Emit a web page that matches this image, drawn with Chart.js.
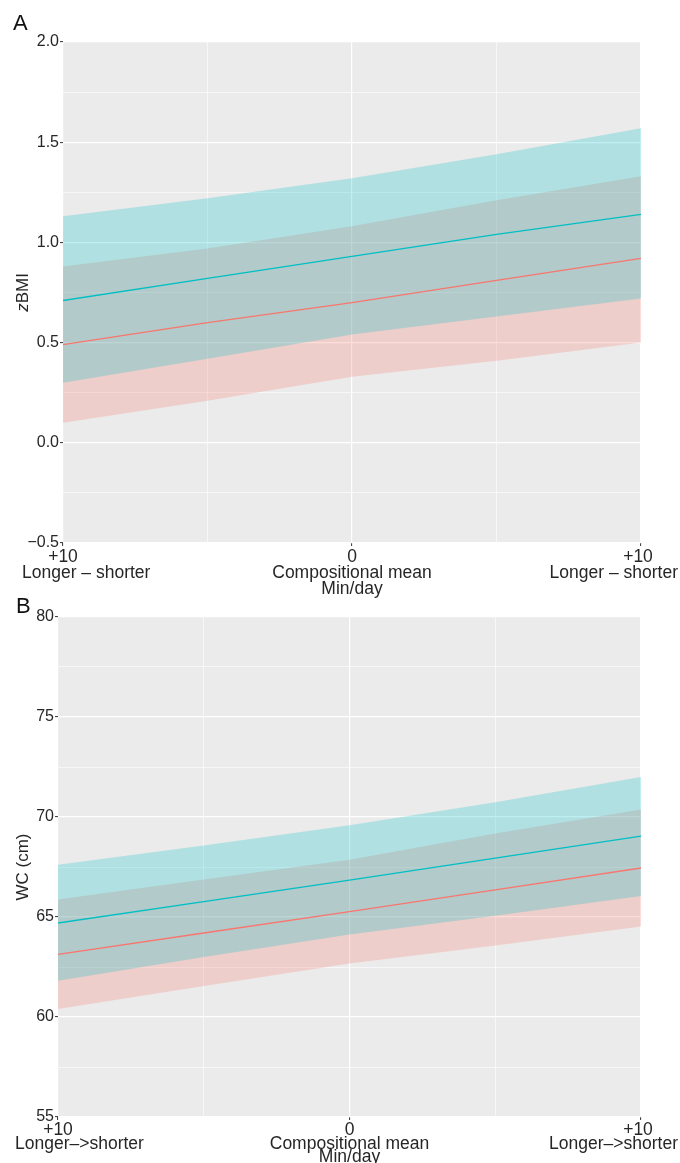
<!DOCTYPE html>
<html>
<head>
<meta charset="utf-8">
<script src="https://cdn.jsdelivr.net/npm/chart.js@4.4.1/dist/chart.umd.min.js"></script>
<style>
  body { margin: 0; background: #fff; }
  #wrap { position: relative; width: 680px; height: 1163px; overflow: hidden; }
  #wrap canvas { position: absolute; left: 0; }
  #chartA { top: 0; }
  #chartB { top: 590px; }
</style>
</head>
<body>
<div id="wrap">
  <canvas id="chartA" width="680" height="600"></canvas>
  <canvas id="chartB" width="680" height="573"></canvas>
</div>
<script>
// x positions of the estimates (min/day reallocated)
var xVals = [-10, -5, 0, 5, 10];
var xTickVals = [-10, 0, 10];

// panel A: zBMI
var cyanMidA = [0.71, 0.82, 0.93, 1.04, 1.14];
var cyanUpperA = [1.13, 1.22, 1.32, 1.44, 1.57];
var cyanLowerA = [0.30, 0.42, 0.54, 0.63, 0.72];
var redMidA = [0.49, 0.60, 0.70, 0.81, 0.92];
var redUpperA = [0.88, 0.97, 1.08, 1.21, 1.33];
var redLowerA = [0.10, 0.21, 0.33, 0.41, 0.50];
var xLabelsA = [["+10", "Longer \u2013 shorter"], ["0", "Compositional mean", "Min/day"], ["+10", "Longer \u2013 shorter"]];

// panel B: WC (cm)
var cyanMidB = [64.70, 65.77, 66.84, 67.94, 69.04];
var cyanUpperB = [67.61, 68.57, 69.59, 70.74, 72.00];
var cyanLowerB = [61.81, 63.00, 64.12, 65.06, 66.05];
var redMidB = [63.13, 64.20, 65.27, 66.36, 67.45];
var redUpperB = [65.88, 66.87, 67.86, 69.18, 70.38];
var redLowerB = [60.40, 61.55, 62.67, 63.57, 64.53];
var xLabelsB = [["+10", "Longer\u2013>shorter"], ["0", "Compositional mean", "Min/day"], ["+10", "Longer\u2013>shorter"]];

var FONT = "'Liberation Sans', Arial, sans-serif";
var TEXT = "#262626";

function pts(ys) {
    return xVals.map(function(x, i) { return { x: x, y: ys[i] }; });
}

function isMajor(v, step) {
    var r = v / step;
    return Math.abs(r - Math.round(r)) < 1e-6;
}

var panelPlugin = {
    id: "panel",
    beforeDraw: function(chart) {
        var a = chart.chartArea, ctx = chart.ctx;
        ctx.save();
        ctx.fillStyle = "#EBEBEB";
        ctx.fillRect(a.left, a.top, a.right - a.left, a.bottom - a.top);
        ctx.restore();
    },
    afterDraw: function(chart, args, o) {
        var a = chart.chartArea, ctx = chart.ctx;
        var xs = chart.scales.x;
        ctx.save();
        ctx.fillStyle = "#111";

        // panel letter
        ctx.font = "22px " + FONT;
        ctx.textAlign = "left";
        ctx.textBaseline = "alphabetic";
        ctx.fillText(o.letter, o.letterX, o.letterY);

        // y axis title, optional italic first part
        ctx.fillStyle = TEXT;
        ctx.translate(o.titleX, (a.top + a.bottom) / 2);
        ctx.rotate(-Math.PI / 2);
        ctx.textBaseline = "middle";
        var fi = "italic 17px " + FONT, fn = "17px " + FONT;
        ctx.font = fi;
        var w1 = ctx.measureText(o.titleItalic).width;
        ctx.font = fn;
        var w2 = ctx.measureText(o.titleRest).width;
        var sx = -(w1 + w2) / 2;
        ctx.font = fi;
        ctx.fillText(o.titleItalic, sx, 0);
        ctx.font = fn;
        ctx.fillText(o.titleRest, sx + w1, 0);
        ctx.setTransform(1, 0, 0, 1, 0, 0);

        // x tick labels under the panel
        ctx.font = "17.5px " + FONT;
        ctx.textBaseline = "middle";
        var last = o.xLabels.length - 1;
        o.xLabels.forEach(function(lines, i) {
            var px = xs.getPixelForValue(xTickVals[i]);
            lines.forEach(function(txt, j) {
                var x = px, align = "center";
                if (j > 0 && i === 0) { align = "left"; x = px - o.edgeIn; }
                if (j > 0 && i === last) { align = "right"; x = px + o.edgeOut; }
                if (j === 0 && i === last) { x = px - 3; }
                ctx.textAlign = align;
                ctx.fillText(txt, x, a.bottom + o.lineTop + j * o.lineGap);
            });
        });
        ctx.restore();
    }
};

function makeChart(id, d) {
    var cyanFill = "rgba(0,191,196,0.25)";
    var redFill = "rgba(248,118,109,0.25)";
    return new Chart(document.getElementById(id).getContext("2d"), {
        type: "line",
        data: {
            datasets: [
                { data: pts(d.cyanMid), borderColor: "#00BFC4", borderWidth: 1.3, pointRadius: 0, fill: false },
                { data: pts(d.redMid), borderColor: "#F8766D", borderWidth: 1.3, pointRadius: 0, fill: false },
                { data: pts(d.cyanLower), borderColor: "transparent", borderWidth: 0, pointRadius: 0, fill: false },
                { data: pts(d.cyanUpper), borderColor: "transparent", borderWidth: 0, pointRadius: 0, fill: "-1", backgroundColor: cyanFill },
                { data: pts(d.redLower), borderColor: "transparent", borderWidth: 0, pointRadius: 0, fill: false },
                { data: pts(d.redUpper), borderColor: "transparent", borderWidth: 0, pointRadius: 0, fill: "-1", backgroundColor: redFill }
            ]
        },
        options: {
            responsive: false,
            animation: false,
            layout: { padding: { top: d.padTop, right: 39, left: 0, bottom: 0 } },
            plugins: {
                legend: { display: false },
                tooltip: { enabled: false },
                filler: { drawTime: "beforeDatasetsDraw" },
                panel: d.panel
            },
            scales: {
                x: {
                    type: "linear",
                    min: -10,
                    max: 10,
                    ticks: { stepSize: 5, display: false },
                    border: { display: false },
                    grid: {
                        color: "#FFFFFF",
                        lineWidth: function(c) { return isMajor(c.tick.value, 10) ? 1.2 : 0.6; },
                        tickColor: function(c) { return isMajor(c.tick.value, 10) ? "#333333" : "rgba(0,0,0,0)"; },
                        tickLength: 3,
                        tickWidth: 1
                    },
                    afterFit: function(s) { s.height = d.xHeight; }
                },
                y: {
                    min: d.yMin,
                    max: d.yMax,
                    ticks: {
                        stepSize: d.yStep / 2,
                        autoSkip: false,
                        padding: 1,
                        color: TEXT,
                        font: { family: FONT, size: 16 },
                        callback: function(v) {
                            if (!isMajor(v, d.yStep)) return "";
                            var s = d.yDec ? v.toFixed(d.yDec) : String(Math.round(v));
                            return s.replace("-", "\u2212");
                        }
                    },
                    border: { display: false },
                    grid: {
                        color: "#FFFFFF",
                        lineWidth: function(c) { return isMajor(c.tick.value, d.yStep) ? 1.2 : 0.6; },
                        tickColor: function(c) { return isMajor(c.tick.value, d.yStep) ? "#333333" : "rgba(0,0,0,0)"; },
                        tickLength: 3,
                        tickWidth: 1
                    },
                    afterFit: function(s) { s.width = d.yWidth; }
                }
            }
        },
        plugins: [panelPlugin]
    });
}

makeChart("chartA", {
    cyanMid: cyanMidA, cyanUpper: cyanUpperA, cyanLower: cyanLowerA,
    redMid: redMidA, redUpper: redUpperA, redLower: redLowerA,
    yMin: -0.5, yMax: 2.0, yStep: 0.5, yDec: 1,
    padTop: 42, xHeight: 57, yWidth: 63,
    panel: {
        letter: "A", letterX: 13, letterY: 30,
        titleX: 23, titleItalic: "z", titleRest: "BMI",
        xLabels: xLabelsA, edgeIn: 41, edgeOut: 37,
        lineTop: 14.5, lineGap: 16
    }
});

makeChart("chartB", {
    cyanMid: cyanMidB, cyanUpper: cyanUpperB, cyanLower: cyanLowerB,
    redMid: redMidB, redUpper: redUpperB, redLower: redLowerB,
    yMin: 55, yMax: 80, yStep: 5, yDec: 0,
    padTop: 27, xHeight: 46, yWidth: 58,
    panel: {
        letter: "B", letterX: 16, letterY: 23,
        titleX: 23, titleItalic: "", titleRest: "WC (cm)",
        xLabels: xLabelsB, edgeIn: 43, edgeOut: 37,
        lineTop: 13, lineGap: 13.8
    }
});
</script>
</body>
</html>
